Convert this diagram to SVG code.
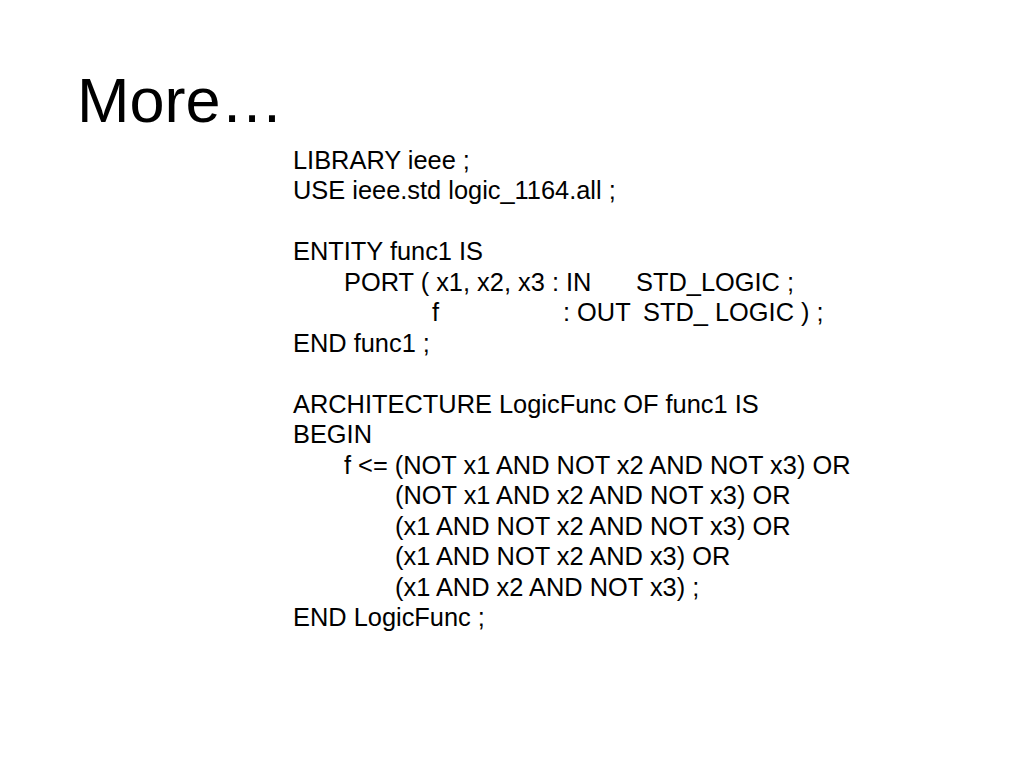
<svg xmlns="http://www.w3.org/2000/svg" width="1024" height="768" viewBox="0 0 1024 768">
<style>
.t{font-family:"Liberation Sans",Arial,Helvetica,sans-serif;fill:#000}
.b{font-size:25.4px}
.h{font-size:63px}
</style>
<rect width="1024" height="768" fill="#fff"/>
<g id="title"><text class="t h" x="77" y="122">More…</text></g>
<g id="code" class="t b">
<text x="293" y="168.5">LIBRARY ieee ;</text>
<text x="293" y="199">USE ieee.std logic_1164.all ;</text>
<text x="293" y="260">ENTITY func1 IS</text>
<text x="344" y="290.5">PORT ( x1, x2, x3 : IN</text>
<text x="636" y="290.5">STD_LOGIC ;</text>
<text x="432" y="321">f</text>
<text x="563" y="321">: OUT</text>
<text x="643" y="321">STD_ LOGIC ) ;</text>
<text x="293" y="351.5">END func1 ;</text>
<text x="293" y="412.5">ARCHITECTURE LogicFunc OF func1 IS</text>
<text x="293" y="443">BEGIN</text>
<text x="344" y="473.5">f &lt;= (NOT x1 AND NOT x2 AND NOT x3) OR</text>
<text x="395" y="504">(NOT x1 AND x2 AND NOT x3) OR</text>
<text x="395" y="534.5">(x1 AND NOT x2 AND NOT x3) OR</text>
<text x="395" y="565">(x1 AND NOT x2 AND x3) OR</text>
<text x="395" y="595.5">(x1 AND x2 AND NOT x3) ;</text>
<text x="293" y="626">END LogicFunc ;</text>
</g>
</svg>
